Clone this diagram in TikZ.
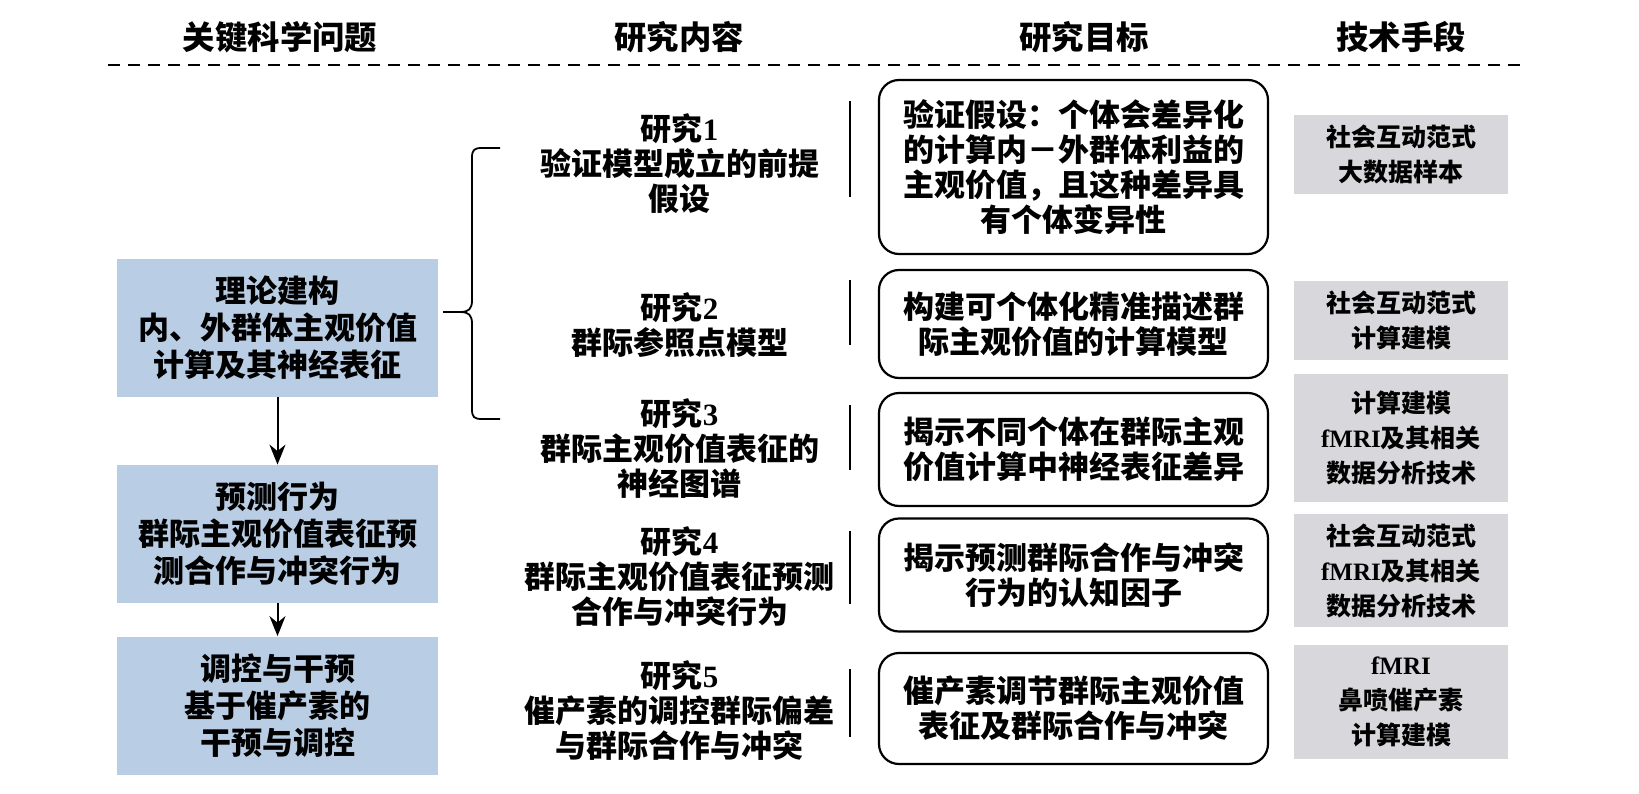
\documentclass[tikz,border=0pt]{standalone}
\usepackage{fontspec}
\setmainfont{Liberation Serif}
\newfontfamily\cjk{Noto Sans CJK SC}
\usetikzlibrary{arrows.meta}
\definecolor{qblue}{RGB}{185,205,229}
\definecolor{mgray}{RGB}{216,215,219}
\newcommand\latn[1]{{\rmfamily #1}}

\begin{document}
\begin{tikzpicture}[x=0.5pt, y=-0.5pt, >={Stealth[length=10pt,width=8pt]},
	head/.style={inner sep=0pt, font=\cjk\bfseries\fontsize{16.2}{19}\selectfont},
	question/.style={fill=qblue, minimum width=160.5pt, minimum height=69pt, inner sep=0pt, align=center, font=\cjk\bfseries\fontsize{15.5}{18.5}\selectfont},
	study/.style={inner sep=0pt, align=center, font=\cjk\bfseries\fontsize{15.5}{17.5}\selectfont},
	goal/.style={draw, line width=1.1pt, rounded corners=10pt, minimum width=194.5pt, inner sep=0pt, align=center, font=\cjk\bfseries\fontsize{15.5}{17.5}\selectfont},
	method/.style={fill=mgray, minimum width=107pt, inner sep=0pt, align=center, font=\cjk\bfseries\fontsize{12.5}{17.5}\selectfont}]
	\useasboundingbox (0,0) rectangle (1639,793);

	% column heads
	\node[head] (h1) at (280,37) {关键科学问题};
	\node[head] (h2) at (679,37) {研究内容};
	\node[head] (h3) at (1084,37) {研究目标};
	\node[head] (h4) at (1401,37) {技术手段};
	\draw[line width=0.8pt, dash pattern=on 5.75pt off 4.25pt] (108,65) -- (1526,65);

	% key questions
	\node[question] (q1) at (277.5,328) {理论建构\\内、外群体主观价值\\计算及其神经表征};
	\node[question] (q2) at (277.5,534) {预测行为\\群际主观价值表征预\\测合作与冲突行为};
	\node[question] (q3) at (277.5,705.5) {调控与干预\\基于催产素的\\干预与调控};
	\draw[line width=1pt, ->] (q1) -- (q2);
	\draw[line width=1pt, ->] (q2) -- (q3);

	% brace
	\coordinate (bracetop) at (500,148);
	\coordinate (bracetip) at (443,312);
	\coordinate (bracebot) at (500,419);
	\draw[line width=0.9pt] (bracetop) -- (482,148) .. controls (474,148) and (472,150) .. (472,158) -- (472,300)
		.. controls (472,309) and (469,312) .. (460,312) -- (bracetip) -- (460,312)
		.. controls (469,312) and (472,315) .. (472,324) -- (472,409)
		.. controls (472,417) and (474,419) .. (482,419) -- (bracebot);

	% studies
	\node[study] (s1) at (679.5,164) {研究\latn{1}\\验证模型成立的前提\\假设};
	\node[study] (s2) at (679.5,325) {研究\latn{2}\\群际参照点模型};
	\node[study] (s3) at (679.5,449) {研究\latn{3}\\群际主观价值表征的\\神经图谱};
	\node[study] (s4) at (679.5,577) {研究\latn{4}\\群际主观价值表征预测\\合作与冲突行为};
	\node[study] (s5) at (679.5,711) {研究\latn{5}\\催产素的调控群际偏差\\与群际合作与冲突};

	\foreach \a/\b in {101/197, 280/345, 405/470, 531/604, 669/737}
		\draw[line width=0.7pt] (850,\a) -- (850,\b);

	% goals
	\node[goal, minimum height=87pt] (r1) at (1073.5,167) {验证假设：个体会差异化\\的计算内－外群体利益的\\主观价值，且这种差异具\\有个体变异性};
	\node[goal, minimum height=54pt] (r2) at (1073.5,324) {构建可个体化精准描述群\\际主观价值的计算模型};
	\node[goal, minimum height=56.5pt] (r3) at (1073.5,449.5) {揭示不同个体在群际主观\\价值计算中神经表征差异};
	\node[goal, minimum height=56.5pt] (r4) at (1073.5,575) {揭示预测群际合作与冲突\\行为的认知因子};
	\node[goal, minimum height=55.5pt] (r5) at (1073.5,708.5) {催产素调节群际主观价值\\表征及群际合作与冲突};

	% methods
	\node[method, minimum height=39.5pt] (g1) at (1401,154.5) {社会互动范式\\大数据样本};
	\node[method, minimum height=39.5pt] (g2) at (1401,320.5) {社会互动范式\\计算建模};
	\node[method, minimum height=64pt] (g3) at (1401,438) {计算建模\\\latn{fMRI}及其相关\\数据分析技术};
	\node[method, minimum height=56.5pt] (g4) at (1401,570.5) {社会互动范式\\\latn{fMRI}及其相关\\数据分析技术};
	\node[method, minimum height=57pt] (g5) at (1401,702) {\latn{fMRI}\\鼻喷催产素\\计算建模};

\end{tikzpicture}
\end{document}
